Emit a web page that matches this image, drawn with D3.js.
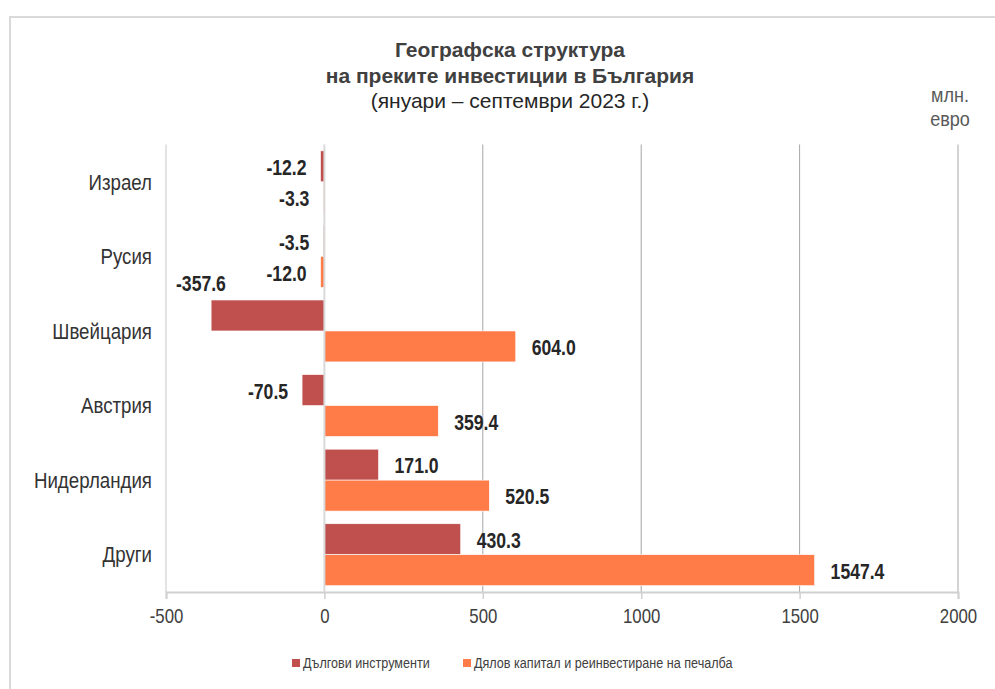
<!DOCTYPE html>
<html>
<head>
<meta charset="utf-8">
<script src="https://cdn.jsdelivr.net/npm/d3@7"></script>
<style>
  html, body { margin: 0; padding: 0; background: #fff; }
  svg { display: block; }
</style>
</head>
<body>
<div id="chart"></div>
<script>
// data (млн. евро)
const categories = ["Израел", "Русия", "Швейцария", "Австрия", "Нидерландия", "Други"];
const seriesNames = ["Дългови инструменти", "Дялов капитал и реинвестиране на печалба"];
const debtValues = [-12.2, -3.5, -357.6, -70.5, 171.0, 430.3];
const equityValues = [-3.3, -12.0, 604.0, 359.4, 520.5, 1547.4];
const xTicks = [-500, 0, 500, 1000, 1500, 2000];
const titleLines = ["Географска структура", "на преките инвестиции в България", "(януари – септември 2023 г.)"];
const unitLines = ["млн.", "евро"];

const width = 995, height = 689;
// no narrow font installed, so narrow text is squeezed with scale(sx,1)
const font = '"Liberation Sans", Arial, sans-serif';
const colors = ["#C0504D", "#FF7B47"];

const svg = d3.select("#chart").append("svg")
    .attr("width", width)
    .attr("height", height);

// outer frame
svg.append("rect")
    .attr("x", 10).attr("y", 17)
    .attr("width", 1000).attr("height", 700)
    .attr("fill", "none")
    .attr("stroke", "#d9d9d9")
    .attr("stroke-width", 2);

const plotTop = 144.5, plotBottom = 592;

const x = d3.scaleLinear().domain([-500, 2000]).range([166, 958]);
const y = d3.scaleBand().domain(categories).range([plotTop, plotBottom]).paddingInner(0.17).paddingOuter(0.085);
const ySub = d3.scaleBand().domain([0, 1]).range([0, y.bandwidth()]);

// vertical grid lines
svg.append("g")
    .selectAll("line")
    .data(xTicks.filter(t => t !== 0))
    .join("line")
    .attr("x1", d => x(d)).attr("x2", d => x(d))
    .attr("y1", plotTop).attr("y2", plotBottom)
    .attr("stroke", d => d === -500 ? "#c8c8c8" : "#a6a6a6")
    .attr("stroke-width", 1);

// bottom axis
const xAxis = svg.append("g")
    .attr("transform", `translate(0,${plotBottom})`)
    .call(d3.axisBottom(x).tickValues(xTicks).tickSize(7).tickPadding(10).tickFormat(d3.format("d")));
xAxis.select(".domain").attr("stroke", "#d0d0d0").attr("stroke-width", 2);
xAxis.selectAll(".tick line").attr("stroke", "#d0d0d0").attr("stroke-width", 1.5);
xAxis.selectAll(".tick text")
    .attr("font-family", font)
    .attr("font-size", 20)
    .attr("fill", "#404040")
    .attr("transform", "scale(0.84,1)")
    .text(d => d < 0 ? "-" + Math.abs(d) : d);

// bars
const rows = categories.map((c, i) => ({ cat: c, values: [debtValues[i], equityValues[i]] }));
const groups = svg.append("g")
    .selectAll("g")
    .data(rows)
    .join("g")
    .attr("transform", d => `translate(0,${y(d.cat)})`);

groups.selectAll("rect")
    .data(d => d.values.map((v, s) => ({ v, s })))
    .join("rect")
    .attr("x", d => x(Math.min(0, d.v)))
    .attr("y", d => ySub(d.s))
    .attr("width", d => Math.abs(x(d.v) - x(0)))
    .attr("height", ySub.bandwidth())
    .attr("fill", d => colors[d.s])
    .attr("stroke", "#fff")
    .attr("stroke-width", 0.6);

// zero line on top of bars
svg.append("line")
    .attr("x1", x(0)).attr("x2", x(0))
    .attr("y1", plotTop).attr("y2", plotBottom)
    .attr("stroke", "#d9d9d9")
    .attr("stroke-width", 2);

// data labels
const labelScale = 0.8;
groups.selectAll("text.val")
    .data(d => d.values.map((v, s) => ({ v, s })))
    .join("text")
    .attr("class", "val")
    .attr("font-family", font)
    .attr("font-size", 22)
    .attr("font-weight", "bold")
    .attr("fill", "#262626")
    .attr("dy", "0.35em")
    .text(d => d.v.toFixed(1))
    .each(function (d) {
        const t = d3.select(this);
        const yc = ySub(d.s) + ySub.bandwidth() / 2 + 1;
        let tx, ty, anchor;
        if (d.v >= 0) {
            tx = x(d.v) + 16; ty = yc; anchor = "start";
        } else {
            const w = this.getComputedTextLength() * labelScale;
            const xr = x(d.v) - 14;
            if (xr - w < x(-500) + 4) {
                // no room on the left: put the label above the bar
                tx = x(-500) + 10; ty = ySub(d.s) - 17; anchor = "start";
            } else {
                tx = xr; ty = yc; anchor = "end";
            }
        }
        t.attr("text-anchor", anchor)
            .attr("transform", `translate(${tx},${ty}) scale(${labelScale},1)`);
    });

// category labels
svg.append("g")
    .selectAll("text")
    .data(categories)
    .join("text")
    .attr("transform", d => `translate(152,${y(d) + y.bandwidth() / 2}) scale(0.85,1)`)
    .attr("dy", "0.35em")
    .attr("text-anchor", "end")
    .attr("font-family", font)
    .attr("font-size", 22)
    .attr("fill", "#333")
    .text(d => d);

// title
const title = svg.append("text")
    .attr("text-anchor", "middle")
    .attr("font-family", font)
    .attr("font-size", 21)
    .attr("fill", "#404040");
title.selectAll("tspan")
    .data(titleLines)
    .join("tspan")
    .attr("x", 510)
    .attr("y", (d, i) => 57 + i * 25.5)
    .attr("font-weight", (d, i) => i < 2 ? "bold" : "normal")
    .attr("fill", (d, i) => i < 2 ? "#404040" : "#262626")
    .text(d => d);

// units
svg.append("g")
    .selectAll("text")
    .data(unitLines)
    .join("text")
    .attr("transform", (d, i) => `translate(950,${102 + i * 24}) scale(0.86,1)`)
    .attr("text-anchor", "middle")
    .attr("font-family", font)
    .attr("font-size", 21)
    .attr("fill", "#595959")
    .text(d => d);

// legend
const legend = svg.append("g").attr("transform", "translate(292,663)");
const legendX = [0, 171];
const items = legend.selectAll("g")
    .data(seriesNames)
    .join("g")
    .attr("transform", (d, i) => `translate(${legendX[i]},0)`);
items.append("rect")
    .attr("x", 0).attr("y", -4)
    .attr("width", 8).attr("height", 8)
    .attr("fill", (d, i) => colors[i]);
items.append("text")
    .attr("transform", "translate(11,0) scale(0.84,1)")
    .attr("dy", "0.35em")
    .attr("font-family", font)
    .attr("font-size", 15)
    .attr("fill", "#404040")
    .text(d => d);
</script>
</body>
</html>
